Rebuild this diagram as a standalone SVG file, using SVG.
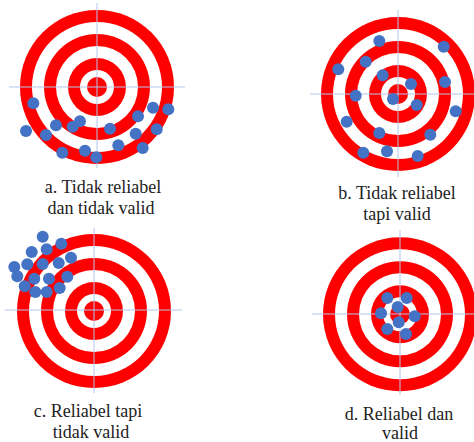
<svg xmlns="http://www.w3.org/2000/svg" xmlns:xlink="http://www.w3.org/1999/xlink" width="474" height="442" viewBox="0 0 474 442">
<style>
.red{fill:#ff0000}
.wht{fill:#ffffff}
.cross{stroke:#b4c6ea;stroke-width:1;fill:none}
.dot{fill:#4472c4}
.lbl{font-family:"Liberation Serif","Times New Roman",serif;font-size:18px;fill:#222;text-anchor:middle}
</style>
<defs>
<g id="target">
<circle class="red" r="77"/>
<circle class="wht" r="65"/>
<circle class="red" r="53"/>
<circle class="wht" r="41"/>
<circle class="red" r="29"/>
<circle class="wht" r="17"/>
<circle class="red" r="10"/>
</g>
</defs>
<rect width="474" height="442" fill="#fff"/>

<g id="panel-a">
<use xlink:href="#target" href="#target" x="97" y="87"/>
<line class="cross" x1="97" y1="3" x2="97" y2="168"/>
<line class="cross" x1="9" y1="87" x2="185" y2="87"/>
<g>
<circle class="dot" r="6" cx="33.3" cy="103.3"/>
<circle class="dot" r="6" cx="26" cy="131"/>
<circle class="dot" r="6" cx="46" cy="135"/>
<circle class="dot" r="6" cx="56" cy="125.3"/>
<circle class="dot" r="6" cx="72.7" cy="126.7"/>
<circle class="dot" r="6" cx="80" cy="121.3"/>
<circle class="dot" r="6" cx="62.3" cy="152.7"/>
<circle class="dot" r="6" cx="85" cy="150.7"/>
<circle class="dot" r="6" cx="96.3" cy="157.3"/>
<circle class="dot" r="6" cx="110" cy="128.7"/>
<circle class="dot" r="6" cx="118.3" cy="145.3"/>
<circle class="dot" r="6" cx="135.7" cy="133.7"/>
<circle class="dot" r="6" cx="138" cy="116.3"/>
<circle class="dot" r="6" cx="142.7" cy="148"/>
<circle class="dot" r="6" cx="153" cy="107.7"/>
<circle class="dot" r="6" cx="156.7" cy="129.3"/>
<circle class="dot" r="6" cx="168.3" cy="109.3"/>
</g>
<text class="lbl" x="103" y="193">a. Tidak reliabel</text>
<text class="lbl" x="101" y="214">dan tidak valid</text>
</g>

<g id="panel-b">
<use xlink:href="#target" href="#target" x="398" y="94"/>
<line class="cross" x1="398" y1="10" x2="398" y2="177"/>
<line class="cross" x1="310" y1="94" x2="474" y2="94"/>
<g>
<circle class="dot" r="6" cx="379.3" cy="41"/>
<circle class="dot" r="6" cx="443.7" cy="46.7"/>
<circle class="dot" r="6" cx="338.3" cy="69.3"/>
<circle class="dot" r="6" cx="365.7" cy="61.7"/>
<circle class="dot" r="6" cx="382.7" cy="75.3"/>
<circle class="dot" r="6" cx="411" cy="84"/>
<circle class="dot" r="6" cx="445" cy="82"/>
<circle class="dot" r="6" cx="355.7" cy="95.7"/>
<circle class="dot" r="6" cx="393" cy="99"/>
<circle class="dot" r="6" cx="416.7" cy="105"/>
<circle class="dot" r="6" cx="455.7" cy="111.3"/>
<circle class="dot" r="6" cx="346.7" cy="121.7"/>
<circle class="dot" r="6" cx="379.3" cy="133"/>
<circle class="dot" r="6" cx="430.3" cy="134.7"/>
<circle class="dot" r="6" cx="363.3" cy="152.7"/>
<circle class="dot" r="6" cx="387" cy="151.3"/>
<circle class="dot" r="6" cx="417.7" cy="156"/>
</g>
<text class="lbl" x="397" y="199">b. Tidak reliabel</text>
<text class="lbl" x="397" y="220">tapi valid</text>
</g>

<g id="panel-c">
<use xlink:href="#target" href="#target" x="94" y="311"/>
<line class="cross" x1="94" y1="228" x2="94" y2="393"/>
<line class="cross" x1="5" y1="310" x2="182" y2="310"/>
<g>
<circle class="dot" r="6" cx="42.7" cy="236.7"/>
<circle class="dot" r="6" cx="61.3" cy="243.7"/>
<circle class="dot" r="6" cx="31.7" cy="252"/>
<circle class="dot" r="6" cx="46.7" cy="249.3"/>
<circle class="dot" r="6" cx="71" cy="257.7"/>
<circle class="dot" r="6" cx="58.7" cy="263"/>
<circle class="dot" r="6" cx="42.7" cy="264"/>
<circle class="dot" r="6" cx="27.3" cy="264.3"/>
<circle class="dot" r="6" cx="14.3" cy="267"/>
<circle class="dot" r="6" cx="17.3" cy="276.3"/>
<circle class="dot" r="6" cx="34.3" cy="278.7"/>
<circle class="dot" r="6" cx="49" cy="278.7"/>
<circle class="dot" r="6" cx="67.3" cy="276.7"/>
<circle class="dot" r="6" cx="24.7" cy="286.3"/>
<circle class="dot" r="6" cx="35.3" cy="292"/>
<circle class="dot" r="6" cx="46.7" cy="292"/>
<circle class="dot" r="6" cx="59.7" cy="288"/>
</g>
<text class="lbl" x="88" y="417">c. Reliabel tapi</text>
<text class="lbl" x="91" y="438">tidak valid</text>
</g>

<g id="panel-d">
<use xlink:href="#target" href="#target" x="400" y="314.3"/>
<line class="cross" x1="400" y1="230" x2="400" y2="395"/>
<line class="cross" x1="312" y1="314" x2="474" y2="314"/>
<g>
<circle class="dot" r="6" cx="387.3" cy="298"/>
<circle class="dot" r="6" cx="406.7" cy="298"/>
<circle class="dot" r="6" cx="397.7" cy="307"/>
<circle class="dot" r="6" cx="381" cy="313.3"/>
<circle class="dot" r="6" cx="414.7" cy="316.3"/>
<circle class="dot" r="6" cx="398.7" cy="322.3"/>
<circle class="dot" r="6" cx="387.3" cy="329"/>
<circle class="dot" r="6" cx="406" cy="334"/>
</g>
<text class="lbl" x="399" y="420">d. Reliabel dan</text>
<text class="lbl" x="400" y="439">valid</text>
</g>
</svg>
